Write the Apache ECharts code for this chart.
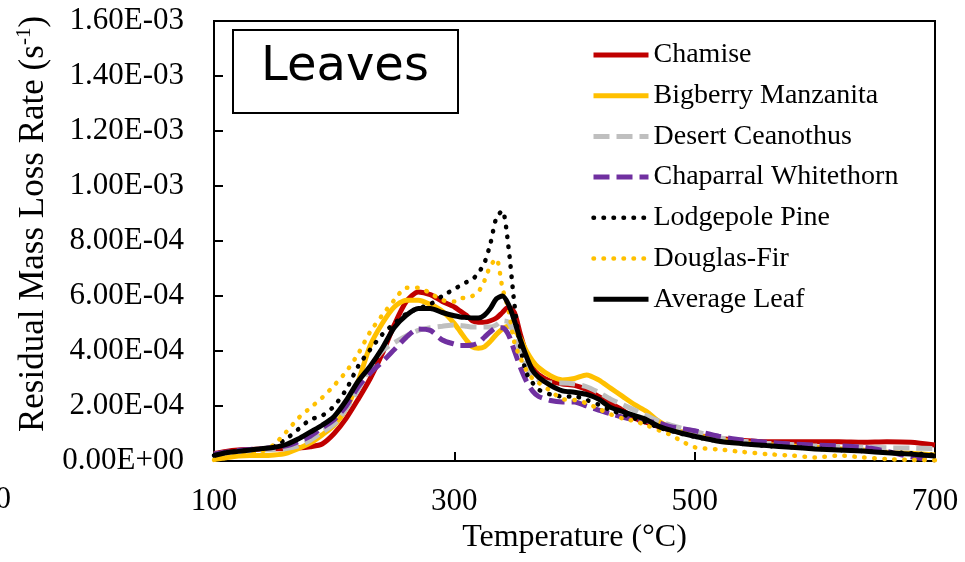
<!DOCTYPE html>
<html>
<head>
<meta charset="utf-8">
<script src="https://cdn.jsdelivr.net/npm/echarts@6/dist/echarts.min.js"></script>
<style>html,body{margin:0;padding:0;background:#fff;}#c{width:965px;height:562px;}</style>
</head>
<body>
<div id="c"></div>
<script>
// Temperatures (°C)
var temps = [100,110,120,130,140,150,160,170,180,190,200,210,220,230,240,250,260,270,280,290,300,
  305,310,315,320,325,330,335,340,345,350,355,360,365,370,
  380,390,400,410,420,430,440,450,460,470,480,490,500,
  520,540,560,580,600,620,640,660,680,700];

// Residual mass loss rate values, in units of 1e-4 s^-1
var chamise = [0.27,0.35,0.4,0.42,0.44,0.45,0.45,0.47,0.52,0.62,1.0,1.55,2.25,3.0,3.9,4.95,5.8,6.15,6.05,5.8,5.6,
  5.45,5.3,5.1,5.05,5.05,5.1,5.2,5.4,5.6,5.4,4.6,3.9,3.4,3.15,
  2.9,2.8,2.75,2.6,2.35,2.1,1.85,1.55,1.4,1.25,1.12,1.02,0.95,
  0.83,0.75,0.7,0.7,0.7,0.7,0.68,0.7,0.68,0.58];
var bigberry = [0.05,0.12,0.18,0.2,0.2,0.22,0.28,0.45,0.65,0.95,1.3,1.9,2.9,4.2,5.0,5.6,5.85,5.85,5.7,5.45,5.0,
  4.7,4.4,4.15,4.1,4.15,4.35,4.6,4.8,4.9,4.75,4.45,4.0,3.65,3.4,
  3.1,2.95,3.0,3.13,2.95,2.65,2.35,2.05,1.8,1.45,1.2,1.05,0.95,
  0.78,0.66,0.6,0.55,0.5,0.45,0.4,0.32,0.28,0.22];
var desert = [0.25,0.3,0.35,0.38,0.4,0.42,0.45,0.55,0.75,1.05,1.35,1.9,2.6,3.4,4.0,4.3,4.55,4.75,4.85,4.9,4.95,
  4.93,4.9,4.87,4.87,4.87,4.87,4.95,5.1,5.05,4.6,3.95,3.45,3.05,2.95,
  2.84,2.84,2.8,2.7,2.5,2.25,2.05,1.85,1.65,1.45,1.3,1.18,1.08,
  0.85,0.72,0.65,0.6,0.55,0.52,0.5,0.48,0.47,0.45];
var chaparral = [0.25,0.32,0.38,0.42,0.45,0.5,0.55,0.7,0.9,1.2,1.5,2.0,2.7,3.2,3.6,4.05,4.5,4.8,4.75,4.4,4.25,
  4.2,4.2,4.22,4.3,4.5,4.7,4.85,4.85,4.6,4.0,3.4,2.9,2.55,2.35,
  2.2,2.15,2.15,2.0,1.85,1.72,1.6,1.5,1.45,1.38,1.25,1.18,1.1,
  0.9,0.76,0.68,0.62,0.58,0.55,0.5,0.35,0.15,0.04];
var lodgepole = [0.2,0.3,0.35,0.4,0.45,0.55,0.8,1.15,1.5,1.65,2.0,2.6,3.45,4.05,4.6,5.0,5.35,5.55,5.7,6.0,6.25,
  6.38,6.5,6.6,6.84,7.2,7.9,8.85,9.1,7.8,5.7,4.1,3.2,2.85,2.6,
  2.42,2.35,2.35,2.22,2.05,1.85,1.7,1.55,1.4,1.22,1.1,0.98,0.88,
  0.72,0.62,0.55,0.5,0.45,0.4,0.36,0.32,0.28,0.22];
var douglas = [0.04,0.12,0.2,0.28,0.35,0.6,1.05,1.55,1.93,2.3,2.75,3.25,3.9,4.7,5.3,5.85,6.3,6.3,6.1,5.85,5.8,
  5.93,5.93,6.0,6.15,6.55,7.1,7.35,6.3,5.5,4.3,3.75,3.3,3.0,2.85,
  2.55,2.25,2.22,2.1,1.9,1.7,1.55,1.45,1.3,1.12,0.95,0.7,0.5,
  0.42,0.33,0.25,0.2,0.13,0.2,0.13,0.07,0.04,0.03];
var average = [0.2,0.3,0.35,0.4,0.45,0.5,0.6,0.8,1.05,1.3,1.62,2.2,2.9,3.45,4.1,4.85,5.3,5.55,5.55,5.4,5.28,
  5.24,5.22,5.2,5.2,5.3,5.55,5.9,6.0,5.7,5.1,4.4,3.8,3.3,3.05,
  2.75,2.55,2.5,2.42,2.25,1.95,1.8,1.65,1.5,1.26,1.12,1.0,0.9,
  0.72,0.63,0.56,0.5,0.44,0.4,0.36,0.3,0.25,0.18];

var seriesNames = ['Chamise','Bigberry Manzanita','Desert Ceanothus','Chaparral Whitethorn','Lodgepole Pine','Douglas-Fir','Average Leaf'];
var xTicks = [100, 300, 500, 700];
var yMin = 0, yMax = 0.0016, yStep = 0.0002;

var SERIF = '"Liberation Serif","Times New Roman",serif';

function pairs(vals) {
  return temps.map(function (t, i) { return [t, vals[i] * 1e-4]; });
}
function sci(v) {
  if (Math.abs(v) < 1e-12) return '0.00E+00';
  var s = v.toExponential(2).toUpperCase();
  var m = s.split('E');
  var e = parseInt(m[1], 10);
  var sign = e < 0 ? '-' : '+';
  var a = Math.abs(e);
  return m[0] + 'E' + sign + (a < 10 ? '0' + a : a);
}

var styles = [
  {color:'#C00000', type:'solid', width:5, cap:'butt'},
  {color:'#FFC000', type:'solid', width:5, cap:'butt'},
  {color:'#BFBFBF', type:[16,7], width:5, cap:'butt'},
  {color:'#7030A0', type:[16,7], width:5, cap:'butt'},
  {color:'#000000', type:[0.5,9.5], width:4.5, cap:'round'},
  {color:'#FFC000', type:[0.5,9.5], width:4.5, cap:'round'},
  {color:'#000000', type:'solid', width:5, cap:'butt'}
];
var dataSets = [chamise, bigberry, desert, chaparral, lodgepole, douglas, average];

var series = dataSets.map(function (d, i) {
  return {
    name: seriesNames[i],
    type: 'line',
    data: pairs(d),
    smooth: 0.25,
    symbol: 'none',
    showSymbol: false,
    color: styles[i].color,
    itemStyle: {color: styles[i].color},
    lineStyle: {color: styles[i].color, width: styles[i].width, type: styles[i].type, cap: styles[i].cap},
    z: 2 + i
  };
});

var chart = echarts.init(document.getElementById('c'), null, {renderer: 'canvas'});
chart.setOption({
  animation: false,
  backgroundColor: '#fff',
  grid: {left: 214, right: 30, top: 21, bottom: 101, show: true, borderColor: '#000', borderWidth: 2, backgroundColor: 'transparent'},
  xAxis: {
    type: 'value', min: xTicks[0], max: xTicks[xTicks.length - 1], interval: 200,
    name: 'Temperature (°C)', nameLocation: 'middle', nameGap: 60,
    nameTextStyle: {fontFamily: SERIF, fontSize: 32, color: '#000'},
    axisLine: {show: true, lineStyle: {color: '#000', width: 2}},
    axisTick: {show: true, inside: true, length: 9, lineStyle: {color: '#000', width: 2}},
    axisLabel: {fontFamily: SERIF, fontSize: 31, color: '#000', margin: 25},
    splitLine: {show: false}
  },
  yAxis: {
    type: 'value', min: yMin, max: yMax, interval: yStep,
    name: '{a|Residual Mass Loss Rate (s}{s|-1}{a|)}', nameLocation: 'middle', nameGap: 152,
    nameTextStyle: {
      fontFamily: SERIF, fontSize: 35, color: '#000', padding: [0, 0, 0, 34],
      rich: {
        a: {fontFamily: SERIF, fontSize: 35, color: '#000', lineHeight: 40},
        s: {fontFamily: SERIF, fontSize: 21, color: '#000', lineHeight: 22, verticalAlign: 'top'}
      }
    },
    axisLine: {show: true, lineStyle: {color: '#000', width: 2}},
    axisTick: {show: true, inside: true, length: 9, lineStyle: {color: '#000', width: 2}},
    axisLabel: {fontFamily: SERIF, fontSize: 31, color: '#000', margin: 30, formatter: sci},
    splitLine: {show: false}
  },
  legend: {
    orient: 'vertical', left: 586, top: 35,
    itemWidth: 55, itemHeight: 14, itemGap: 10.7,
    textStyle: {fontFamily: SERIF, fontSize: 28, color: '#000', lineHeight: 30},
    data: seriesNames.map(function (n, i) {
      return {name: n, itemStyle: {color: styles[i].color, opacity: 0}, lineStyle: {color: styles[i].color, width: styles[i].width, type: styles[i].type, cap: styles[i].cap}};
    })
  },
  graphic: [
    {type: 'rect', shape: {x: 233, y: 30, width: 225, height: 83}, style: {fill: '#fff', stroke: '#000', lineWidth: 2}, z: 100},
    {type: 'text', x: 345, y: 68, style: {text: 'Leaves', fontFamily: '"DejaVu Sans ExtraLight","DejaVu Sans",sans-serif', fontSize: 48, fill: '#000', align: 'center', verticalAlign: 'middle'}, z: 101},
    {type: 'text', x: 11, y: 500, style: {text: '0', fontFamily: SERIF, fontSize: 31, fill: '#000', align: 'right', verticalAlign: 'middle'}, z: 101}
  ],
  series: series
});
</script>
</body>
</html>
